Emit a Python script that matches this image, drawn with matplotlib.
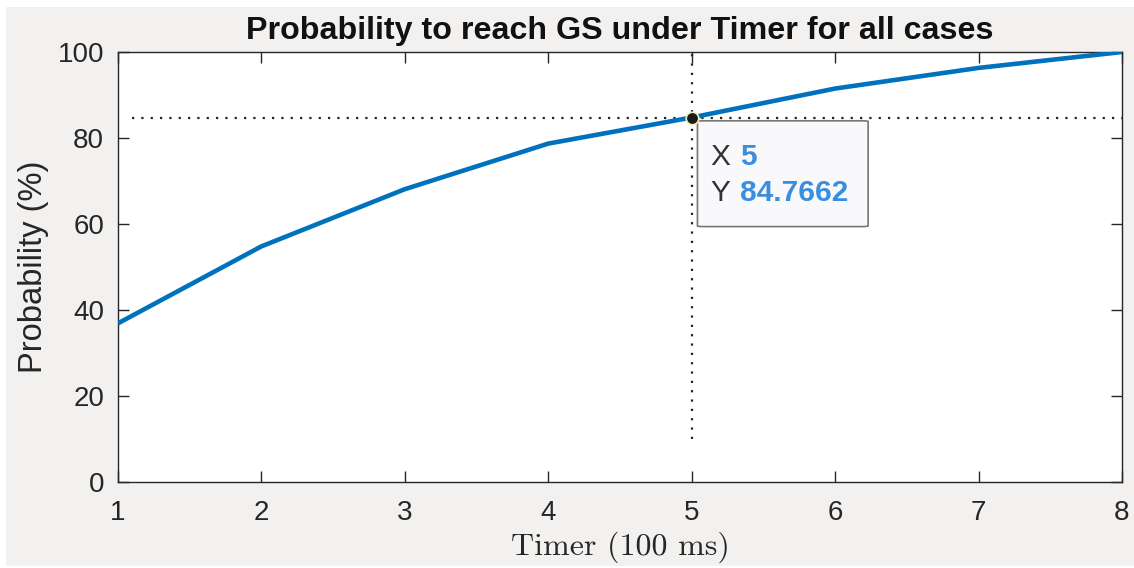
import matplotlib
matplotlib.use('Agg')
import matplotlib.pyplot as plt
from matplotlib.patches import FancyBboxPatch, Rectangle

# timer setting (x 100 ms) and probability of reaching GS
timer = [1, 2, 3, 4, 5, 6, 7, 8]
prob = [36.9, 54.8, 68.1, 78.7, 84.7662, 91.5, 96.3, 100.0]
tip_idx = 4

plt.rcParams['font.family'] = ['Liberation Sans', 'DejaVu Sans']

fig = plt.figure(figsize=(11.34, 5.68), dpi=100, facecolor='white')
fig.patches.append(Rectangle((6/1134, 2/568), 1 - 6/1134, 559/568,
                             transform=fig.transFigure, facecolor='#f2f1f0',
                             edgecolor='none', zorder=-10))
ax = fig.add_axes([118/1134, 86/568, 1004/1134, 430/568])
ax.set_facecolor('white')

tx, ty = timer[tip_idx], prob[tip_idx]
# crosshair through the selected point
ax.plot([1.1, 8], [ty, ty], color='#222222', lw=1.6, ls=(0, (1, 3.2)), zorder=2)
ax.plot([tx, tx], [10, 100], color='#222222', lw=1.6, ls=(0, (1, 3.2)), zorder=2)

ax.plot(timer, prob, color='#0072BD', lw=3.3, zorder=3, solid_capstyle='butt')
ax.plot([tx], [ty], 'o', ms=9, mfc='#1a1a1a', mec='#f3efc0', mew=1.2, zorder=5)

ax.set_xlim(1, 8)
ax.set_ylim(0, 100)
ax.set_xticks(timer)
ax.set_yticks([0, 20, 40, 60, 80, 100])
ax.tick_params(direction='in', length=8, width=1, colors='#262626',
               labelsize=20, top=True, right=True)
ax.tick_params(axis='x', pad=13)
ax.tick_params(axis='y', pad=10)
for s in ax.spines.values():
    s.set_color('#262626')
    s.set_linewidth(1.0)

ax.set_title('Probability to reach GS under Timer for all cases',
             fontsize=23.2, fontweight='bold', color='#111111', pad=9)
ax.set_ylabel('Probability (%)', fontsize=23.5, color='#262626', labelpad=6)
ax.set_xlabel('Timer (100 ms)', fontsize=23, family='cmr10', color='#262626',
              labelpad=4)

# data tip box
box = FancyBboxPatch((5.04, 59.4), 1.19, 24.6,
                     boxstyle='round,pad=0,rounding_size=0.04',
                     mutation_aspect=4.0,
                     facecolor='#f9f9fc', edgecolor='#777777', lw=1.2, zorder=4)
ax.add_patch(box)
ax.text(5.13, 75.6, 'X', fontsize=21.5, color='#333333', va='center', zorder=6)
ax.text(5.34, 75.6, str(tx), fontsize=21.5, color='#3a8ede', fontweight='bold',
        va='center', zorder=6)
ax.text(5.13, 67.2, 'Y', fontsize=21.5, color='#333333', va='center', zorder=6)
ax.text(5.34, 67.2, '%.4f' % ty, fontsize=21.5, color='#3a8ede', fontweight='bold',
        va='center', zorder=6)

fig.savefig('out.png', dpi=100, facecolor=fig.get_facecolor())
